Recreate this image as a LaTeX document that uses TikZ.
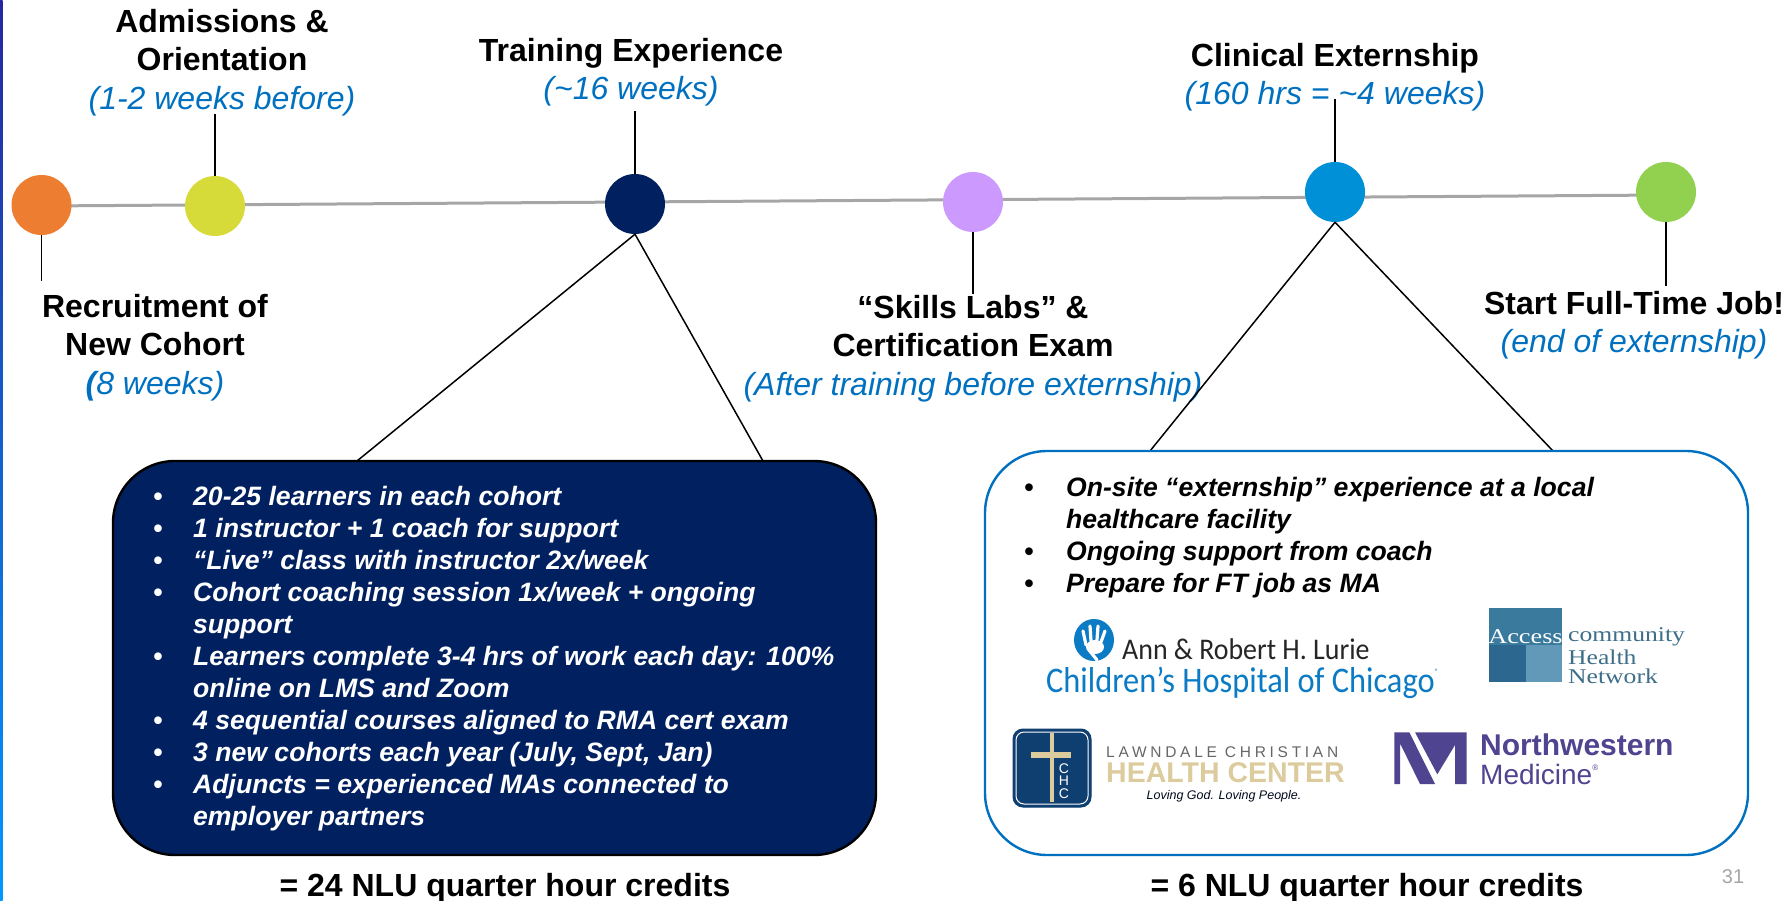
\documentclass[tikz,border=0pt]{standalone}
\usepackage{fontspec}
\setmainfont{Liberation Sans}
\newfontfamily\serifface{Liberation Serif}
\newfontfamily\thinface{Carlito}
\usetikzlibrary{calc}
\definecolor{navy}{HTML}{002060}
\definecolor{txtblue}{HTML}{0070C0}
\definecolor{luriehand}{HTML}{0A7BC4}
\definecolor{accmid}{HTML}{3A7A9C}
\definecolor{accdark}{HTML}{2C6790}
\definecolor{acclight}{HTML}{6299B9}
\definecolor{acctext}{HTML}{3E6E88}
\definecolor{tan}{HTML}{DCCB9C}
\definecolor{lcnavy}{HTML}{0F3F70}
\definecolor{nmpurple}{HTML}{4F4490}
\tikzset{
  x=1pt,y=-1pt,
  dot/.style={circle,minimum size=60pt,inner sep=0pt},
  spine/.style={draw=black!35,line width=3pt},
  tick/.style={draw=black,line width=1.5pt},
  head/.style={inner sep=0pt,align=center,font=\fontsize{32}{38.4}\selectfont\bfseries},
  panel/.style={rounded corners=62pt,line width=2.4pt},
  credits/.style={inner sep=0pt,font=\fontsize{32}{36}\selectfont\bfseries},
  bullets/.style={inner sep=0pt,anchor=north west,text=#1,font=\fontsize{26.6}{32}\selectfont\bfseries\itshape},
  logo/.style={inner sep=0pt,anchor=west},
}
\newcommand{\sub}[1]{{\mdseries\itshape\color{txtblue}#1}}
\newcommand{\squeeze}[2]{\scalebox{#1}[1]{#2}}
\newcommand{\regmark}{\raisebox{.5em}{\fontsize{8}{8}\selectfont ®}}
\begin{document}
\begin{tikzpicture}
\useasboundingbox (0,0) rectangle (1791,901);
\shade[top color=blue!55!black!85!white,bottom color=cyan!60!blue] (0,0) rectangle (2.5,901);
% timeline
\coordinate (s0) at (41.5,206); \coordinate (s1) at (1666,195);
\draw[spine] (s0)--(s1);
% dots
\node[dot,fill={rgb,255:red,237;green,125;blue,49}] (d1) at (41.5,205) {};
\node[dot,fill={rgb,255:red,214;green,219;blue,58}] (d2) at (215,206) {};
\node[dot,fill=navy] (d3) at (635,204) {};
\node[dot,fill={rgb,255:red,204;green,153;blue,255}] (d4) at (973,202) {};
\node[dot,fill={rgb,255:red,0;green,144;blue,216}] (d5) at (1335,192) {};
\node[dot,fill={rgb,255:red,146;green,208;blue,80}] (d6) at (1666,192) {};
% free ends
\coordinate (t1) at (41.5,281); \coordinate (t2) at (215,114); \coordinate (t3) at (635,111);
\coordinate (t4) at (973,294); \coordinate (t5) at (1335,99); \coordinate (t6) at (1666,286);
\coordinate (a1) at (357,461); \coordinate (a2) at (763,461); \coordinate (b1) at (1150,451); \coordinate (b2) at (1553,451);
% labels
\node[head] (l2) at (222,62.5) {Admissions \&\\Orientation\\\sub{(1-2 weeks before)}};
\node[head] (l3) at (631,72.5) {Training Experience\\\sub{(\textasciitilde 16 weeks)}};
\node[head] (l5) at (1335,77) {Clinical Externship\\\sub{(160 hrs = \textasciitilde 4 weeks)}};
\node[head] (l1) at (155,347.5) {Recruitment of\\New Cohort\\{\color{txtblue}\itshape(}\sub{8 weeks)}};
\node[head] (l4) at (973,348.5) {“Skills Labs” \&\\Certification Exam\\\sub{(After training before externship)}};
\node[head] (l6) at (1634,325) {Start Full-Time Job!\\\sub{(end of externship)}};
\draw[tick] (d1)--(t1); \draw[tick] (d2)--(t2); \draw[tick] (d3)--(t3);
\draw[tick] (d4)--(t4); \draw[tick] (d5)--(t5); \draw[tick] (d6)--(t6);
\draw[tick] (d3.south)--(a1); \draw[tick] (d3.south)--(a2);
\draw[tick] (d5.south)--(b1); \draw[tick] (d5.south)--(b2);
% panels
\draw[panel,draw=black,fill=navy] (113,461) rectangle (876,855);
\draw[panel,draw=txtblue,fill=white] (985,451) rectangle (1748,855);
\node[bullets=white] (pa) at (153,483) {\begin{tabular}{@{}p{40pt}@{}l@{}}
•&20-25 learners in each cohort\\
•&1 instructor + 1 coach for support\\
•&“Live” class with instructor 2x/week\\
•&Cohort coaching session 1x/week + ongoing\\
&support\\
•&Learners complete 3-4 hrs of work each day: 100\%\\
&online on LMS and Zoom\\
•&4 sequential courses aligned to RMA cert exam\\
•&3 new cohorts each year (July, Sept, Jan)\\
•&Adjuncts = experienced MAs connected to\\
&employer partners
\end{tabular}};
\node[bullets=black] (pb) at (1024,474) {\begin{tabular}{@{}p{42pt}@{}l@{}}
•&On-site “externship” experience at a local\\
&healthcare facility\\
•&Ongoing support from coach\\
•&Prepare for FT job as MA
\end{tabular}};
\node[credits] (c1) at (505,888) {= 24 NLU quarter hour credits};
\node[credits] (c2) at (1367,888) {= 6 NLU quarter hour credits};
\node[inner sep=0pt,text=black!35,font=\fontsize{20}{24}\selectfont] (pg) at (1733,877) {31};
% Lurie logo
\fill[luriehand] (1094,640) ellipse (20 and 21);
\fill[white] (1095,647) ellipse (9 and 7);
\foreach \x/\y/\u/\v in {1086/645/1083/631,1091/641/1090/626,1097/640/1098/626,1101/642/1105/631,1089/650/1097/660}
  \draw[white,line width=3.2pt,line cap=round] (\x,\y)--(\u,\v);
\node[logo,text=black!85,font=\fontsize{30}{32}\thinface] (lu1) at (1122,649) {\squeeze{.93}{Ann \& Robert H. Lurie}};
\node[logo,text=luriehand,font=\fontsize{36}{38}\thinface] (lu2) at (1046,683) {\squeeze{.9}{Children’s Hospital of Chicago\regmark}};
% Access logo
\fill[accmid] (1489,608) rectangle (1562,682);
\fill[accdark] (1489,645) rectangle (1526,682);
\fill[acclight] (1526,645) rectangle (1562,682);
\node[inner sep=0pt,text=white,font=\fontsize{21}{22}\serifface] (ac0) at (1525.5,637) {\squeeze{1.25}{Access}};
\node[logo,text=acctext,font=\fontsize{21}{22}\serifface] (ac1) at (1568,637) {\squeeze{1.22}{community}};
\node[logo,text=acctext,font=\fontsize{21}{22}\serifface] (ac2) at (1568,657) {\squeeze{1.22}{Health}};
\node[logo,text=acctext,font=\fontsize{21}{22}\serifface] (ac3) at (1568,676) {\squeeze{1.22}{Network}};
% Lawndale logo
\draw[lcnavy,fill=lcnavy,line width=1pt,rounded corners=10pt] (1013,729) rectangle (1091,807);
\draw[white,line width=1pt,rounded corners=8pt] (1016,732) rectangle (1088,804);
\fill[tan] (1049.5,733) rectangle (1053.5,802);
\fill[tan] (1031,752) rectangle (1071,758);
\node[inner sep=0pt,align=center,text=white,font=\fontsize{14}{12.5}\selectfont] (lc0) at (1064,781) {C\\H\\C};
\node[logo,text=black!60,font=\fontsize{15.5}{18}\selectfont] (lc1) at (1106,752) {\addfontfeature{LetterSpace=24}LAWNDALE CHRISTIAN};
\node[logo,text=tan,font=\fontsize{28.5}{32}\selectfont\bfseries] (lc2) at (1106,773) {HEALTH CENTER};
\node[inner sep=0pt,text=black!70!navy,font=\fontsize{12.5}{14}\itshape] (lc3) at (1224,796) {Loving God. Loving People.};
% Northwestern logo
\fill[nmpurple] (1394.3,732.3) -- (1409.3,732.3) -- (1435,784) -- (1420,784) -- (1400,743.3) -- (1400,784) -- (1394.3,784) -- cycle;
\fill[nmpurple] (1415,732.3) -- (1466.7,732.3) -- (1466.7,784) -- (1455,784) -- (1455,745) -- (1437.3,774.3) -- cycle;
\node[logo,text=nmpurple,font=\fontsize{30}{32}\selectfont\bfseries] (nm1) at (1480,745) {Northwestern};
\node[logo,text=nmpurple,font=\fontsize{28}{32}\selectfont] (nm2) at (1480,774) {Medicine\regmark};
\end{tikzpicture}
\end{document}
